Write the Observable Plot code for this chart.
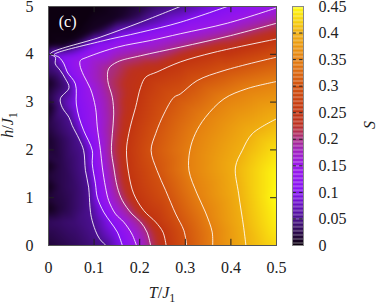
<!DOCTYPE html>
<html><head><meta charset="utf-8">
<script src="https://cdn.jsdelivr.net/npm/d3@7"></script>
<script src="https://cdn.jsdelivr.net/npm/@observablehq/plot@0.6"></script>
<style>
html,body{margin:0;padding:0;background:#fff;overflow:hidden}
#c{position:relative;width:377px;height:305px}
#c svg{position:absolute;left:0;top:0}
</style></head><body><div id="c"></div>
<script>
// Contours of S: [T/J1, h/J1]
const s05 = [[.126,0],[.112,.14],[.103,.31],[.094,.59],[.091,.80],[.088,1.22],[.081,1.57],[.077,1.99],[.067,2.23],[.052,2.51],[.045,2.68],[.030,2.89],[.026,3.07],[.045,3.30],[.037,3.49],[.026,3.66],[.015,3.80],[.015,3.94],[.004,4.01],[.114,4.36],[.202,4.67],[.289,5]];
const s10 = [[.162,0],[.151,.28],[.136,.49],[.121,.70],[.107,1.01],[.103,1.29],[.096,1.71],[.096,1.99],[.077,2.41],[.067,2.68],[.061,2.96],[.059,3.38],[.041,3.63],[.034,3.80],[.023,3.94],[.012,3.99],[.114,4.27],[.202,4.46],[.289,4.67],[.392,5]];
const s15 = [[.193,0],[.183,.24],[.165,.49],[.147,.66],[.132,.94],[.125,1.22],[.118,1.64],[.114,1.99],[.107,2.48],[.103,2.89],[.092,3.28],[.077,3.56],[.069,3.77],[.070,3.87],[.085,3.94],[.151,4.15],[.224,4.29],[.289,4.43],[.392,4.65],[.5,4.97]];
const s20 = [[.224,0],[.216,.28],[.202,.49],[.183,.66],[.162,.94],[.151,1.22],[.143,1.64],[.138,1.99],[.140,2.34],[.143,2.75],[.140,3.10],[.130,3.45],[.132,3.70],[.151,3.84],[.202,3.97],[.289,4.15],[.399,4.39],[.5,4.65]];
const s25 = [[.258,0],[.251,.28],[.235,.49],[.209,.73],[.187,1.08],[.176,1.50],[.171,1.99],[.176,2.34],[.183,2.62],[.191,2.89],[.202,3.31],[.213,3.52],[.238,3.63],[.289,3.84],[.363,4.04],[.5,4.32]];
const s30 = [[.303,0],[.297,.31],[.279,.66],[.257,1.15],[.238,1.57],[.225,1.99],[.235,2.34],[.253,2.75],[.275,3.10],[.289,3.17],[.326,3.45],[.385,3.66],[.5,3.94]];
const s35 = [[.360,0],[.359,.28],[.344,.70],[.326,1.08],[.308,1.57],[.310,1.99],[.322,2.34],[.344,2.68],[.385,3.07],[.435,3.28],[.5,3.43]];
const s40 = [[.433,0],[.428,.38],[.417,1.08],[.410,1.64],[.425,1.99],[.447,2.34],[.5,2.65]];
const contourLevels = [.05,.1,.15,.2,.25,.3,.35,.4];
const contourLines = [s05,s10,s15,s20,s25,s30,s35,s40];
// Further S samples: [T/J1, h/J1, S]
const samples = [
 [0,0,.015],[0,.15,.02],[0,.3,.025],[0,.5,.03],[0,.77,.002],[0,1,.015],[0,1.22,.002],[0,1.45,.015],[0,1.67,.002],[0,1.85,.02],[0,2.2,.01],[0,2.5,.02],[0,2.9,.002],[0,3.1,.02],[0,3.4,.005],[0,3.6,.03],[0,3.8,.04],[0,3.95,.045],[0,4.06,.01],[0,4.2,0],[0,4.5,0],[0,5,0],
 [.06,0,.03],[.03,.5,.035],[.06,.5,.04],[.03,.77,.02],[.03,1.22,.025],[.03,1.67,.025],[.06,1.2,.035],[.02,2.4,.03],[.01,3,.03],
 [.03,4.2,.003],[.06,4.3,.005],[.06,4.5,0],[.1,4.5,.008],[.15,4.75,.008],[.2,4.85,.025],[.1,5,0],[.17,5,.01],[.22,5,.028],[.35,5,.08],[.45,5,.125],[.5,5,.15],
 [.47,0,.415],[.5,0,.425],[.47,1,.43],[.5,.5,.44],[.5,1,.45],[.5,1.5,.445],[.5,2,.43]
];
const xTicks = [0,.1,.2,.3,.4,.5];
const yTicks = [0,1,2,3,4,5];
const barTicks = [0,.05,.1,.15,.2,.25,.3,.35,.4,.45];
const colorDomain = [0,.05,.1,.15,.18,.2,.225,.25,.3,.35,.4,.45];
const colorRange = ["#0d0010","#4b1090","#8510f5","#9a18e8","#a020b8","#aa2c80","#bc3020","#c23410","#d2520f","#e58010","#f0b010","#ffff10"];

const fieldPoints = contourLines.flatMap((line,i)=>line.map(([T,h])=>({T,h,S:contourLevels[i]})))
  .concat(samples.map(([T,h,S])=>({T,h,S})));
const contourRows = contourLines.flatMap((line,i)=>line.map(([T,h])=>({T,h,level:contourLevels[i]})));
const color = {type:"linear",domain:colorDomain,range:colorRange,interpolate:"rgb",clamp:true};
const font = {fontFamily:"'Liberation Serif',serif",fontSize:"16px",background:"transparent",overflow:"visible",color:"#222"};
const fmt = d=>String(d);

const main = Plot.plot({
  width:377,height:305,marginLeft:48,marginRight:101,marginTop:6,marginBottom:60,
  style:font,
  x:{domain:[0,.5]},y:{domain:[0,5]},color,
  marks:[
    Plot.raster(fieldPoints,{x:"T",y:"h",fill:"S",interpolate:"barycentric",pixelSize:1,blur:2}),
    Plot.line(contourRows,{x:"T",y:"h",z:"level",stroke:"#fff",strokeWidth:1,strokeOpacity:.85,curve:"catmull-rom",clip:true}),
    Plot.ruleX(xTicks.slice(1,-1),{y1:0,y2:.13,stroke:"#222"}),
    Plot.ruleX(xTicks.slice(1,-1),{y1:4.87,y2:5,stroke:"#222"}),
    Plot.ruleY(yTicks.slice(1,-1),{x1:.487,x2:.5,stroke:"#222"}),
    Plot.ruleY(yTicks.slice(1,-1),{x1:0,x2:.013,stroke:"#222"}),
    Plot.frame({stroke:"#555"}),
    Plot.axisX({ticks:xTicks,tickSize:0,tickPadding:16,tickFormat:fmt,label:null,fontSize:16}),
    Plot.axisY({ticks:yTicks,tickSize:0,tickPadding:15,tickFormat:fmt,label:null,fontSize:16}),
    Plot.text(["(c)"],{x:.042,y:4.67,text:d=>d,fill:"#fff",fontSize:16})
  ]
});
const bar = Plot.plot({
  width:377,height:305,marginLeft:292,marginRight:74,marginTop:6,marginBottom:60,
  style:font,
  x:{domain:[0,1],axis:null},y:{domain:[0,.45]},color,
  marks:[
    Plot.rect(d3.range(0,.45,.0025),{x1:0,x2:1,y1:d=>d,y2:d=>d+.0025,fill:d=>d}),
    Plot.ruleY(barTicks.slice(1,-1),{x1:.05,x2:.35,stroke:"#222"}),
    Plot.ruleY(barTicks.slice(1,-1),{x1:.65,x2:.95,stroke:"#222"}),
    Plot.frame({stroke:"#888"}),
    Plot.axisY({anchor:"right",ticks:barTicks,tickSize:0,tickPadding:15,tickFormat:fmt,label:null,fontSize:16})
  ]
});
const host = document.getElementById("c");
host.append(main,bar);
function label(svg,x,y,rot,parts){
  const t = d3.select(svg).append("text").attr("transform",`translate(${x},${y}) rotate(${rot})`)
    .attr("text-anchor","middle").attr("font-family","'Liberation Serif',serif").attr("font-size",16).attr("fill","#222");
  parts.forEach(([s,it,sub])=>{
    const p = t.append("tspan").text(s);
    if(it) p.attr("font-style","italic");
    if(sub) p.attr("font-size",12).attr("dy",4);
  });
}
label(main,162,298,0,[["T",1],["/"],["J",1],["1",0,1]]);
label(main,13,125,-90,[["h",1],["/"],["J",1],["1",0,1]]);
label(bar,375,125,-90,[["S",1]]);
</script></body></html>
